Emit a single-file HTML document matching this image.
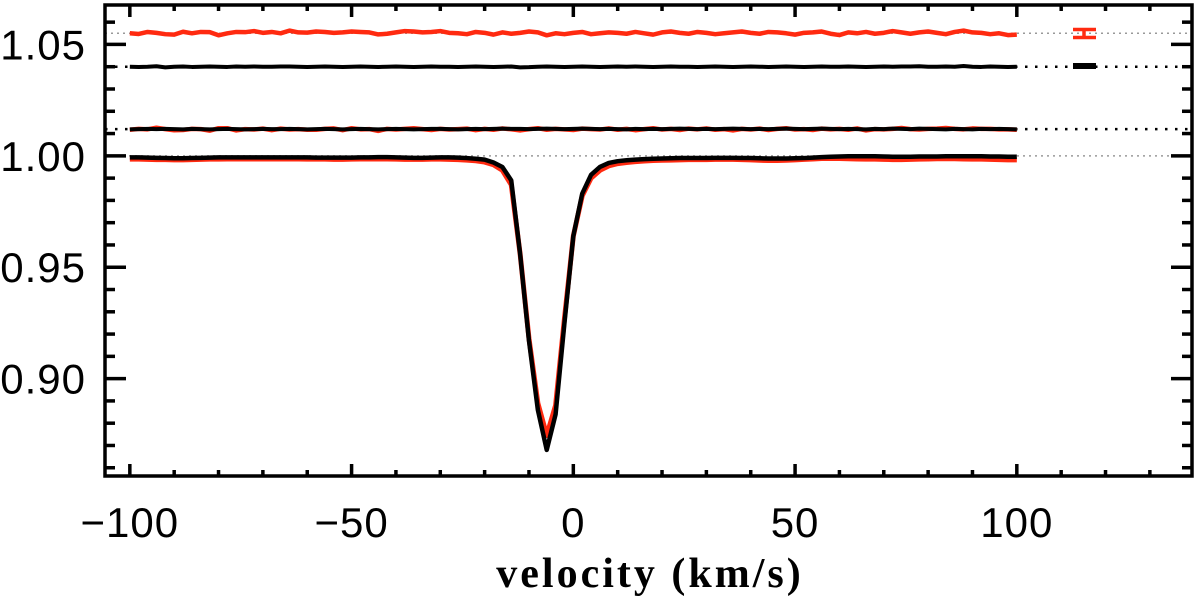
<!DOCTYPE html>
<html><head><meta charset="utf-8"><style>
html,body{margin:0;padding:0;background:#fff;}
svg{display:block;}
.tl{font-family:"Liberation Sans",sans-serif;font-size:42px;fill:#000;letter-spacing:1px;}
.al{font-family:"Liberation Serif",serif;font-size:42px;font-weight:bold;fill:#000;letter-spacing:3px;}
</style></head><body>
<svg id="chart" width="1200" height="597" viewBox="0 0 1200 597" xmlns="http://www.w3.org/2000/svg">
<g id="grid"></g>
<g id="series"></g>
<g id="axes"></g>
<g id="legend"></g>
<text class="al" x="650" y="587" text-anchor="middle">velocity (km/s)</text>
</svg>
<script>
const vStart = -100, vStep = 2;
const xTicks = [-100, -50, 0, 50, 100];
const xTickLabels = ["\u2212100", "\u221250", "0", "50", "100"];
const yTicks = [0.90, 0.95, 1.00, 1.05];
const yTickLabels = ["0.90", "0.95", "1.00", "1.05"];
const refLevels = [1.055, 1.040, 1.012, 1.000];
const refStyles = ["grey", "black", "black", "grey"];
const redTop = [1.0550,1.0547,1.0556,1.0552,1.0546,1.0544,1.0557,1.0550,1.0556,1.0555,
1.0541,1.0550,1.0556,1.0555,1.0560,1.0552,1.0556,1.0550,1.0562,1.0554,
1.0553,1.0558,1.0556,1.0552,1.0554,1.0558,1.0556,1.0554,1.0545,1.0548,
1.0554,1.0560,1.0558,1.0554,1.0556,1.0560,1.0552,1.0550,1.0546,1.0556,
1.0552,1.0544,1.0554,1.0548,1.0552,1.0558,1.0554,1.0541,1.0550,1.0546,
1.0552,1.0556,1.0546,1.0550,1.0554,1.0552,1.0548,1.0556,1.0550,1.0544,
1.0554,1.0558,1.0552,1.0548,1.0556,1.0552,1.0546,1.0550,1.0554,1.0558,
1.0552,1.0548,1.0556,1.0554,1.0550,1.0544,1.0552,1.0554,1.0558,1.0548,
1.0542,1.0554,1.0550,1.0556,1.0548,1.0552,1.0560,1.0554,1.0548,1.0554,
1.0558,1.0552,1.0546,1.0556,1.0562,1.0554,1.0552,1.0546,1.0550,1.0542,1.0544];
const blackTop = [1.0400,1.0399,1.0400,1.0402,1.0397,1.0400,1.0401,1.0399,1.0400,1.0401,
1.0400,1.0399,1.0401,1.0400,1.0401,1.0400,1.0400,1.0401,1.0401,1.0400,
1.0399,1.0400,1.0401,1.0400,1.0399,1.0400,1.0401,1.0400,1.0399,1.0400,
1.0401,1.0400,1.0399,1.0400,1.0401,1.0400,1.0400,1.0399,1.0400,1.0401,
1.0400,1.0399,1.0400,1.0401,1.0397,1.0398,1.0400,1.0401,1.0400,1.0399,
1.0400,1.0401,1.0400,1.0399,1.0400,1.0401,1.0400,1.0401,1.0400,1.0399,
1.0400,1.0401,1.0400,1.0400,1.0399,1.0400,1.0401,1.0400,1.0399,1.0400,
1.0401,1.0400,1.0399,1.0400,1.0401,1.0400,1.0399,1.0400,1.0401,1.0400,
1.0400,1.0401,1.0400,1.0399,1.0400,1.0401,1.0400,1.0401,1.0401,1.0402,
1.0400,1.0400,1.0401,1.0400,1.0403,1.0400,1.0399,1.0401,1.0400,1.0399,1.0400];
const redMid = [1.0117,1.0121,1.0119,1.0126,1.0120,1.0115,1.0116,1.0121,1.0120,1.0113,
1.0124,1.0124,1.0114,1.0120,1.0118,1.0122,1.0115,1.0122,1.0118,1.0120,
1.0117,1.0117,1.0121,1.0123,1.0115,1.0124,1.0119,1.0120,1.0112,1.0121,
1.0118,1.0121,1.0124,1.0120,1.0116,1.0121,1.0118,1.0120,1.0122,1.0115,
1.0121,1.0117,1.0123,1.0119,1.0114,1.0120,1.0124,1.0117,1.0121,1.0119,
1.0116,1.0122,1.0120,1.0118,1.0123,1.0117,1.0121,1.0115,1.0120,1.0124,
1.0118,1.0121,1.0116,1.0122,1.0119,1.0123,1.0117,1.0120,1.0114,1.0121,
1.0118,1.0122,1.0116,1.0121,1.0124,1.0118,1.0120,1.0116,1.0122,1.0119,
1.0121,1.0117,1.0123,1.0114,1.0120,1.0119,1.0121,1.0125,1.0120,1.0118,
1.0121,1.0122,1.0125,1.0121,1.0119,1.0123,1.0121,1.0121,1.0119,1.0119,1.0117];
const blackMid = [1.0119,1.0120,1.0121,1.0120,1.0121,1.0120,1.0119,1.0121,1.0120,1.0119,
1.0120,1.0121,1.0120,1.0119,1.0120,1.0121,1.0120,1.0120,1.0121,1.0120,
1.0119,1.0120,1.0121,1.0120,1.0119,1.0120,1.0121,1.0120,1.0119,1.0120,
1.0121,1.0120,1.0119,1.0120,1.0121,1.0121,1.0120,1.0119,1.0120,1.0121,
1.0120,1.0121,1.0122,1.0121,1.0121,1.0120,1.0121,1.0122,1.0121,1.0120,
1.0121,1.0122,1.0121,1.0120,1.0121,1.0120,1.0119,1.0121,1.0120,1.0121,
1.0120,1.0121,1.0122,1.0121,1.0120,1.0121,1.0120,1.0121,1.0122,1.0121,
1.0120,1.0121,1.0120,1.0121,1.0122,1.0121,1.0120,1.0121,1.0122,1.0121,
1.0120,1.0121,1.0120,1.0119,1.0121,1.0120,1.0122,1.0121,1.0120,1.0122,
1.0121,1.0120,1.0119,1.0121,1.0120,1.0119,1.0121,1.0120,1.0121,1.0120,1.0119];
const redProfile = [0.9985,0.9985,0.9984,0.9983,0.9983,0.9982,0.9982,0.9983,0.9984,0.9985,
0.9985,0.9986,0.9986,0.9986,0.9986,0.9986,0.9986,0.9986,0.9986,0.9986,
0.9985,0.9985,0.9985,0.9984,0.9984,0.9985,0.9986,0.9986,0.9986,0.9986,
0.9985,0.9984,0.9984,0.9984,0.9985,0.9985,0.9984,0.9983,0.9981,0.9978,
0.9972,0.9960,0.9935,0.9870,0.9560,0.9180,0.8890,0.8745,0.8880,0.9270,
0.9640,0.9820,0.9900,0.9935,0.9955,0.9965,0.9970,0.9974,0.9977,0.9979,
0.9980,0.9981,0.9982,0.9983,0.9983,0.9983,0.9984,0.9984,0.9984,0.9983,
0.9982,0.9980,0.9979,0.9979,0.9980,0.9982,0.9984,0.9986,0.9988,0.9988,
0.9988,0.9987,0.9986,0.9985,0.9985,0.9984,0.9983,0.9983,0.9984,0.9985,
0.9986,0.9987,0.9987,0.9987,0.9986,0.9985,0.9985,0.9984,0.9983,0.9982,0.9982];
const blackProfile = [0.9993,0.9993,0.9992,0.9991,0.9990,0.9989,0.9989,0.9990,0.9991,0.9992,
0.9993,0.9993,0.9993,0.9993,0.9993,0.9993,0.9993,0.9993,0.9993,0.9993,
0.9993,0.9992,0.9992,0.9992,0.9992,0.9992,0.9993,0.9993,0.9994,0.9994,
0.9993,0.9992,0.9991,0.9991,0.9992,0.9993,0.9993,0.9992,0.9990,0.9987,
0.9983,0.9970,0.9950,0.9890,0.9560,0.9170,0.8860,0.8680,0.8840,0.9250,
0.9640,0.9830,0.9915,0.9950,0.9968,0.9976,0.9980,0.9983,0.9985,0.9987,
0.9988,0.9989,0.9990,0.9990,0.9990,0.9990,0.9991,0.9991,0.9991,0.9990,
0.9990,0.9989,0.9988,0.9988,0.9988,0.9989,0.9990,0.9992,0.9994,0.9996,
0.9997,0.9998,0.9998,0.9998,0.9998,0.9997,0.9996,0.9996,0.9996,0.9997,
0.9997,0.9997,0.9998,0.9998,0.9998,0.9998,0.9998,0.9997,0.9997,0.9996,0.9996];

const L=105,R=1192,T=5,B=476;
const xMin=-105.6,xMax=139.5,yMin=0.8563,yMax=1.0677;
function xs(v){return L+(v-xMin)/(xMax-xMin)*(R-L);}
function ys(v){return B-(v-yMin)/(yMax-yMin)*(B-T);}
const NS="http://www.w3.org/2000/svg";
function mk(tag,attrs,parent){const e=document.createElementNS(NS,tag);for(const k in attrs)e.setAttribute(k,attrs[k]);parent.appendChild(e);return e;}
const grid=document.getElementById('grid'),series=document.getElementById('series'),axes=document.getElementById('axes'),legend=document.getElementById('legend');

refLevels.forEach((lv,i)=>{
  const grey=refStyles[i]==="grey";
  const ln=mk('line',{x1:L,x2:R,y1:ys(lv),y2:ys(lv),stroke:grey?'#999':'#000','stroke-width':grey?1.5:2.5,'stroke-dasharray':grey?'2 4':'2.5 7.5'},grid);
  
  
});

function drawSeries(arr,color,w,name){
  const pts=arr.map((v,i)=>xs(vStart+vStep*i).toFixed(2)+','+ys(v).toFixed(2)).join(' ');
  const p=mk('polyline',{points:pts,fill:'none',stroke:color,'stroke-width':w,'stroke-linejoin':'round'},series);
  
  
}
drawSeries(redTop,'#ff2a10',4.5,'red-top-series');
drawSeries(blackTop,'#000',4,'black-top-series');
drawSeries(redMid,'#ff2a10',4.5,'red-mid-series');
drawSeries(blackMid,'#000',4,'black-mid-series');
drawSeries(redProfile,'#ff2a10',5,'red-profile-series');
drawSeries(blackProfile,'#000',4.5,'black-profile-series');

const fr=mk('rect',{x:L,y:T,width:R-L,height:B-T,fill:'none',stroke:'#000','stroke-width':3.5},axes);


for(let v=-100;v<=130;v+=10){
  const major=v%50===0;const len=major?12:6;const x=xs(v);
  mk('line',{x1:x,x2:x,y1:B,y2:B-len,stroke:'#000','stroke-width':3.5},axes);
  mk('line',{x1:x,x2:x,y1:T,y2:T+len,stroke:'#000','stroke-width':3.5},axes);
}
xTicks.forEach((v,i)=>{
  const t=mk('text',{x:xs(v),y:537,'text-anchor':'middle',class:'tl'},axes);
  t.textContent=xTickLabels[i];
  
  
});
for(let k=86;k<=106;k++){
  const v=k/100;const major=k%5===0;const len=major?21:10;const y=ys(v);
  if(y<T||y>B)continue;
  mk('line',{x1:L,x2:L+len,y1:y,y2:y,stroke:'#000','stroke-width':3.5},axes);
  mk('line',{x1:R,x2:R-len,y1:y,y2:y,stroke:'#000','stroke-width':3.5},axes);
}
yTicks.forEach((v,i)=>{
  const t=mk('text',{x:86,y:ys(v)+15,'text-anchor':'end',class:'tl'},axes);
  t.textContent=yTickLabels[i];
  
  
});

const eb=mk('path',{d:'M1073,29.5 H1096 M1073,37.5 H1096 M1084,29.5 V37.5',stroke:'#ff2a10','stroke-width':3.5,fill:'none'},legend);


const bb=mk('rect',{x:1073,y:63,width:23,height:6,fill:'#000'},legend);


</script>
</body></html>
